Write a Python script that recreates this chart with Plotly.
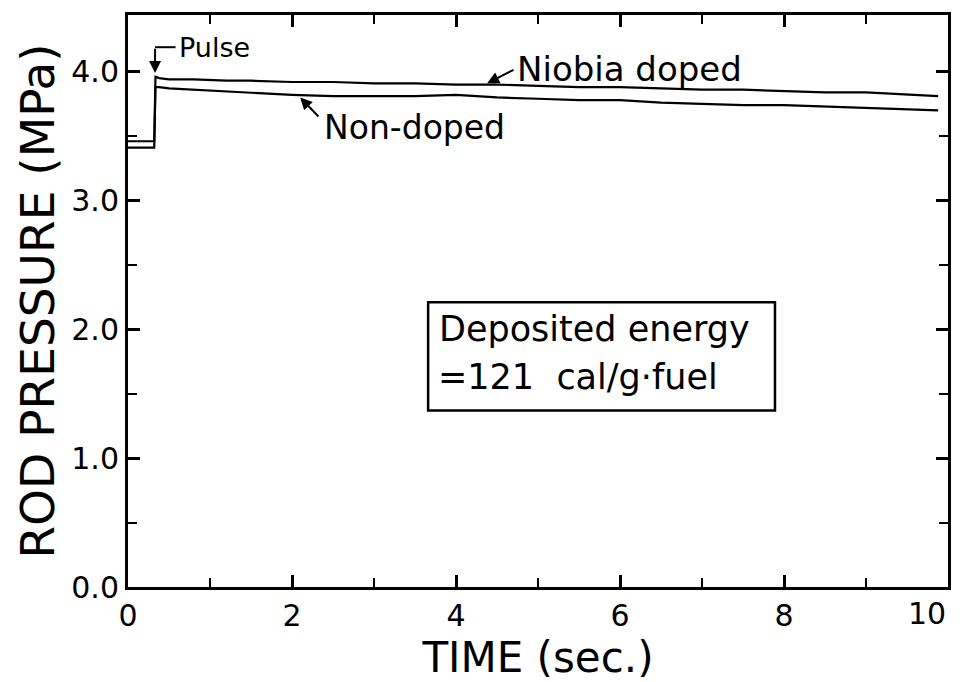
import plotly.graph_objects as go

# Rod pressure history through a pulse irradiation
time_s = [0.0, 0.15, 0.32, 0.335, 0.38, 0.5, 0.8, 1.2, 1.5, 2.0, 2.5, 3.0, 3.5,
          4.0, 4.5, 5.0, 5.5, 6.0, 6.5, 7.0, 7.5, 8.0, 8.5, 9.0, 9.5, 9.88]
niobia_doped = [3.46, 3.46, 3.46, 3.96, 3.95, 3.94, 3.94, 3.93, 3.93, 3.92, 3.92, 3.91, 3.91,
                3.90, 3.90, 3.89, 3.88, 3.88, 3.87, 3.86, 3.86, 3.85, 3.84, 3.84, 3.82, 3.81]
non_doped = [3.41, 3.41, 3.41, 3.88, 3.88, 3.87, 3.86, 3.85, 3.84, 3.82, 3.81, 3.81, 3.81,
             3.82, 3.80, 3.79, 3.78, 3.78, 3.76, 3.75, 3.74, 3.74, 3.73, 3.72, 3.71, 3.70]

x_ticks = [0, 2, 4, 6, 8, 10]
x_tick_text = ["0", "2", "4", "6", "8", "10"]
y_ticks = [0.0, 1.0, 2.0, 3.0, 4.0]
y_tick_text = ["0.0", "1.0", "2.0", "3.0", "4.0"]

FONT = "DejaVu Sans"
INK = "black"
TICK_SIZE = 30

fig = go.Figure()
fig.add_trace(go.Scatter(x=time_s, y=niobia_doped, mode="lines",
                         line=dict(color=INK, width=2.2), name="Niobia doped"))
fig.add_trace(go.Scatter(x=time_s, y=non_doped, mode="lines",
                         line=dict(color=INK, width=2.2), name="Non-doped"))

axis_common = dict(
    showgrid=False, zeroline=False, showline=True, linecolor=INK, linewidth=3,
    mirror="ticks", ticks="inside", ticklen=12, tickwidth=2.5, tickcolor=INK,
    tickfont=dict(family=FONT, size=TICK_SIZE, color=INK), automargin=False,
)
# the last x label sits flush right against the frame, so it is set apart below
fig.update_xaxes(
    range=[0, 10], tickvals=x_ticks, ticktext=x_tick_text[:-1] + [""],
    minor=dict(dtick=1, ticks="inside", ticklen=9, tickwidth=2, tickcolor=INK),
    title=dict(text="TIME (sec.)", font=dict(family=FONT, size=42, color=INK), standoff=22),
    **axis_common,
)
fig.update_yaxes(
    range=[0, 4.44], tickvals=y_ticks, ticktext=y_tick_text,
    minor=dict(dtick=0.5, ticks="inside", ticklen=9, tickwidth=2, tickcolor=INK),
    title=dict(text="ROD PRESSURE (MPa)", font=dict(family=FONT, size=47, color=INK), standoff=2),
    **axis_common,
)
fig.add_annotation(x=x_ticks[-1], y=-0.047, xref="x", yref="paper", text=x_tick_text[-1],
                   showarrow=False, xanchor="right", yanchor="middle",
                   font=dict(family=FONT, size=TICK_SIZE, color=INK))

# "Pulse" marker: bracket line and downward arrow onto the step
fig.add_shape(type="line", x0=0.33, y0=4.19, x1=0.58, y1=4.19,
              line=dict(color=INK, width=2))
fig.add_annotation(x=0.33, y=3.99, ax=0.33, ay=4.19, axref="x", ayref="y",
                   text="", showarrow=True, arrowhead=2, arrowsize=1.2,
                   arrowwidth=2, arrowcolor=INK)
fig.add_annotation(x=0.6, y=4.19, text="Pulse", showarrow=False, xanchor="left",
                   font=dict(family=FONT, size=27, color=INK))

# Curve labels with leader arrows
fig.add_annotation(x=4.72, y=4.02, text="Niobia doped", showarrow=False, xanchor="left",
                   font=dict(family=FONT, size=34, color=INK))
fig.add_annotation(x=4.38, y=3.91, ax=4.72, ay=4.02, axref="x", ayref="y",
                   text="", showarrow=True, arrowhead=2, arrowsize=1.2,
                   arrowwidth=2, arrowcolor=INK)
fig.add_annotation(x=2.36, y=3.57, text="Non-doped", showarrow=False, xanchor="left",
                   font=dict(family=FONT, size=33, color=INK))
fig.add_annotation(x=2.10, y=3.80, ax=2.34, ay=3.64, axref="x", ayref="y",
                   text="", showarrow=True, arrowhead=2, arrowsize=1.2,
                   arrowwidth=2, arrowcolor=INK)

# Deposited energy note in a framed box
fig.add_shape(type="rect", x0=3.66, y0=1.37, x1=7.89, y1=2.21,
              line=dict(color=INK, width=2.5))
fig.add_annotation(x=3.77, y=2.0, text="Deposited energy", showarrow=False, xanchor="left",
                   font=dict(family=FONT, size=35, color=INK))
fig.add_annotation(x=3.75, y=1.63, text="=121  cal/g\u00b7fuel", showarrow=False, xanchor="left",
                   font=dict(family=FONT, size=35, color=INK))

fig.update_layout(
    width=963, height=682, showlegend=False,
    paper_bgcolor="white", plot_bgcolor="white",
    margin=dict(l=128, r=15, t=15, b=95),
)

fig.write_html("out.html")
